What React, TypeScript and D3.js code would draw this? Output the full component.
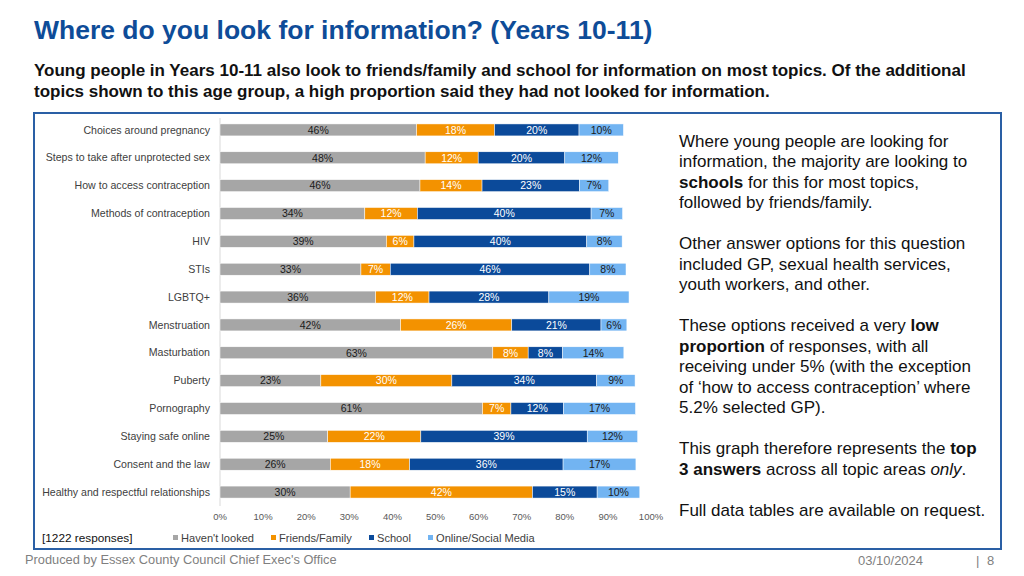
import React from "react";
import * as d3 from "d3";

const categories = [
  "Choices around pregnancy",
  "Steps to take after unprotected sex",
  "How to access contraception",
  "Methods of contraception",
  "HIV",
  "STIs",
  "LGBTQ+",
  "Menstruation",
  "Masturbation",
  "Puberty",
  "Pornography",
  "Staying safe online",
  "Consent and the law",
  "Healthy and respectful relationships",
];

const seriesNames = ["Haven't looked", "Friends/Family", "School", "Online/Social Media"];

const havenLooked = [45.6, 47.6, 46.4, 33.6, 38.6, 32.7, 36.1, 41.9, 63.3, 23.4, 60.9, 25.0, 25.6, 30.2];
const friendsFamily = [18.1, 12.3, 14.4, 12.2, 6.4, 6.8, 12.4, 25.8, 8.2, 30.4, 6.6, 21.6, 18.4, 42.3];
const school = [19.6, 20.1, 22.6, 40.3, 40.1, 46.3, 27.8, 20.7, 8.0, 33.6, 12.2, 38.6, 35.6, 15.0];
const onlineSocial = [10.3, 12.4, 6.8, 7.3, 8.2, 8.4, 18.6, 6.0, 14.2, 8.9, 16.7, 11.7, 16.9, 9.9];

const xTicks = [0, 10, 20, 30, 40, 50, 60, 70, 80, 90, 100];

const seriesColors = ["#A6A6A6", "#F39200", "#0B4A9A", "#72B4F2"];
const labelColors = ["#1a1a1a", "#ffffff", "#ffffff", "#1a1a1a"];

const FONT = "'Liberation Sans', Arial, sans-serif";

export default function App() {
  const series = [havenLooked, friendsFamily, school, onlineSocial];
  const rows = categories.map((c, i) => {
    const o: any = { cat: c };
    seriesNames.forEach((s, j) => (o[s] = series[j][i]));
    return o;
  });
  const stacked = d3.stack<any>().keys(seriesNames)(rows);

  const x = d3.scaleLinear().domain([0, 100]).range([220, 651]);
  const y = d3.scaleBand<string>().domain(categories).range([116, 506]);
  const barH = y.bandwidth() * 0.43;
  const fmt = (v: number) => `${Math.round(v)}%`;

  const legendX = [173, 271, 369, 428];

  const para: { y: number; parts: { t: string; b?: boolean; i?: boolean }[] }[] = [
    { y: 0, parts: [{ t: "Where young people are looking for" }] },
    { y: 1, parts: [{ t: "information, the majority are looking to" }] },
    { y: 2, parts: [{ t: "schools", b: true }, { t: " for this for most topics," }] },
    { y: 3, parts: [{ t: "followed by friends/family." }] },
    { y: 5, parts: [{ t: "Other answer options for this question" }] },
    { y: 6, parts: [{ t: "included GP, sexual health services," }] },
    { y: 7, parts: [{ t: "youth workers, and other." }] },
    { y: 9, parts: [{ t: "These options received a very " }, { t: "low", b: true }] },
    { y: 10, parts: [{ t: "proportion", b: true }, { t: " of responses, with all" }] },
    { y: 11, parts: [{ t: "receiving under 5% (with the exception" }] },
    { y: 12, parts: [{ t: "of \u2018how to access contraception\u2019 where" }] },
    { y: 13, parts: [{ t: "5.2% selected GP)." }] },
    { y: 15, parts: [{ t: "This graph therefore represents the " }, { t: "top", b: true }] },
    { y: 16, parts: [{ t: "3 answers", b: true }, { t: " across all topic areas " }, { t: "only", i: true }, { t: "." }] },
    { y: 18, parts: [{ t: "Full data tables are available on request." }] },
  ];

  return (
    <svg
      width={1024}
      height={576}
      style={{ position: "absolute", left: 0, top: 0, background: "#fff" }}
      fontFamily={FONT}
    >
      <rect x={0} y={0} width={1024} height={576} fill="#fff" />
      <text x={34} y={39} fontSize={26.5} fontWeight="bold" fill="#0E4C98">
        Where do you look for information? (Years 10-11)
      </text>
      <text x={34} y={76} fontSize={17} fontWeight="bold" fill="#111">
        Young people in Years 10-11 also look to friends/family and school for information on most topics. Of the additional
      </text>
      <text x={34} y={97} fontSize={17} fontWeight="bold" fill="#111">
        topics shown to this age group, a high proportion said they had not looked for information.
      </text>

      <rect x={34} y={113} width={967} height={436} fill="#fff" stroke="#2A5FA5" strokeWidth={2} />

      {/* axis line */}
      <line x1={x(0)} x2={x(0)} y1={118} y2={506} stroke="#D9D9D9" strokeWidth={1} />

      {/* category labels */}
      {categories.map((c) => (
        <text
          key={c}
          x={210}
          y={(y(c) as number) + y.bandwidth() / 2}
          dy="0.35em"
          textAnchor="end"
          fontSize={10.6}
          fill="#404040"
        >
          {c}
        </text>
      ))}

      {/* bars */}
      {stacked.map((s, si) => (
        <g key={s.key}>
          {s.map((d, i) => {
            const cy = (y(categories[i]) as number) + y.bandwidth() / 2;
            const x0 = x(d[0]);
            const x1 = x(d[1]);
            const v = d[1] - d[0];
            return (
              <g key={i}>
                <rect
                  x={x0}
                  y={cy - barH / 2}
                  width={x1 - x0}
                  height={barH}
                  fill={seriesColors[si]}
                  stroke="#fff"
                  strokeWidth={0.5}
                />
                <text
                  x={(x0 + x1) / 2}
                  y={cy}
                  dy="0.36em"
                  textAnchor="middle"
                  fontSize={10.5}
                  fill={labelColors[si]}
                >
                  {fmt(v)}
                </text>
              </g>
            );
          })}
        </g>
      ))}

      {/* x ticks */}
      {xTicks.map((t) => (
        <text key={t} x={x(t)} y={517} dy="0.35em" textAnchor="middle" fontSize={9.5} fill="#595959">
          {t}%
        </text>
      ))}

      {/* legend */}
      <text x={42} y={538} dy="0.35em" fontSize={11.8} fill="#111">
        [1222 responses]
      </text>
      {seriesNames.map((s, i) => (
        <g key={s}>
          <rect x={legendX[i]} y={535} width={5} height={5} fill={seriesColors[i]} />
          <text x={legendX[i] + 8} y={538} dy="0.35em" fontSize={11.1} fill="#404040">
            {s}
          </text>
        </g>
      ))}

      {/* right text */}
      {para.map((p, k) => (
        <text key={k} x={679} y={141 + p.y * 20.5} dy="0.35em" fontSize={17} fill="#111">
          {p.parts.map((pt, j) => (
            <tspan key={j} fontWeight={pt.b ? "bold" : "normal"} fontStyle={pt.i ? "italic" : "normal"}>
              {pt.t}
            </tspan>
          ))}
        </text>
      ))}

      {/* footer */}
      <text x={25} y={560} dy="0.35em" fontSize={12.8} fill="#7F7F7F">
        Produced by Essex County Council Chief Exec's Office
      </text>
      <text x={858} y={560} dy="0.35em" fontSize={13} fill="#7F7F7F">
        03/10/2024
      </text>
      <text x={976} y={560} dy="0.35em" fontSize={13} fill="#7F7F7F">
        |
      </text>
      <text x={987} y={560} dy="0.35em" fontSize={13} fill="#7F7F7F">
        8
      </text>
    </svg>
  );
}
